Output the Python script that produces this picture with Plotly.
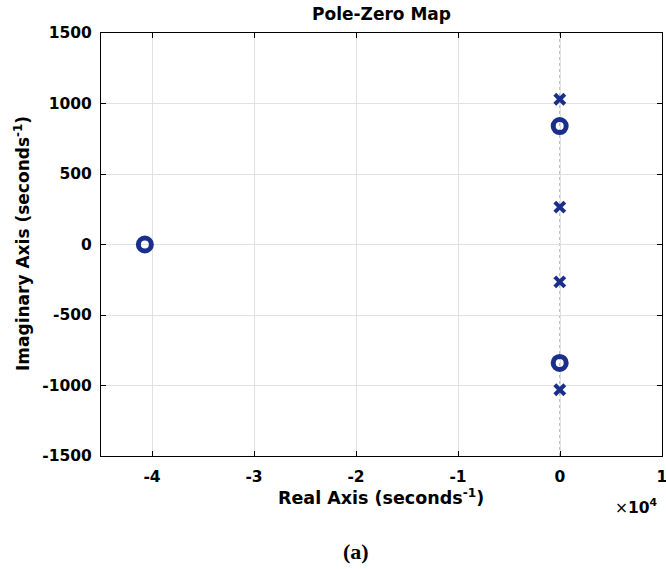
import plotly.graph_objects as go

# Poles (x markers) and zeros (o markers), in seconds^-1
pole_re = [-20, -20, -20, -20]
pole_im = [1030, 265, -265, -1030]
zero_re = [-40700, -30, -30]
zero_im = [0, 840, -840]

x_ticks = [-4, -3, -2, -1, 0, 1]
y_ticks = [-1500, -1000, -500, 0, 500, 1000, 1500]

col = "rgb(26,46,140)"
font = "DejaVu Sans, Liberation Sans, Arial, sans-serif"

W, H = 666, 569
l, r, t, b = 101, 4, 33, 113
pw, ph = W - l - r, H - t - b


def px(xp):
    return (xp - l) / pw


def py(yp):
    return (H - b - yp) / ph


fig = go.Figure()
# dotted zero lines
fig.add_shape(type="line", x0=0, x1=0, y0=-1500, y1=1500, xref="x", yref="y",
              line=dict(color="rgb(130,130,130)", width=1, dash="dot"), layer="below")
fig.add_shape(type="line", x0=-4.5, x1=1, y0=0, y1=0, xref="x", yref="y",
              line=dict(color="rgb(130,130,130)", width=1, dash="dot"), layer="below")

fig.add_trace(go.Scatter(x=[v / 1e4 for v in pole_re], y=pole_im, mode="markers",
                         marker=dict(symbol="x-thin", size=10, line=dict(color=col, width=4)),
                         showlegend=False))
fig.add_trace(go.Scatter(x=[v / 1e4 for v in zero_re], y=zero_im, mode="markers",
                         marker=dict(symbol="circle-open", size=13, color=col, line=dict(color=col, width=5)),
                         showlegend=False))

axis_common = dict(showline=True, linecolor="black", linewidth=1, mirror="ticks",
                   ticks="inside", ticklen=5, tickcolor="black",
                   showgrid=True, gridcolor="rgb(225,225,225)", gridwidth=1,
                   zeroline=False, ticklabeloverflow="allow", automargin=False,
                   tickfont=dict(family=font, size=15.5, color="black", weight="bold"))

fig.update_xaxes(range=[-4.5, 1], tickvals=x_ticks, ticktext=[str(t) for t in x_ticks],
                 ticklabelstandoff=6, **axis_common)
fig.update_yaxes(range=[-1500, 1500], tickvals=y_ticks, ticktext=[str(t) for t in y_ticks],
                 ticklabelstandoff=5, **axis_common)


def ann(text, xp, yp, size, family=font, angle=0):
    return dict(text=text, xref="paper", yref="paper", x=px(xp), y=py(yp),
                xanchor="center", yanchor="middle", showarrow=False, textangle=angle,
                font=dict(family=family, size=size, color="black"))


fig.update_layout(
    width=W, height=H,
    margin=dict(l=l, r=r, t=t, b=b),
    plot_bgcolor="white", paper_bgcolor="white",
    font=dict(family=font, color="black"),
    annotations=[
        ann("<b>Pole-Zero Map</b>", 381, 14, 17),
        ann("<b>Real Axis (seconds<sup>-1</sup>)</b>", 381, 497, 17.5),
        ann("<b>Imaginary Axis (seconds<sup>-1</sup>)</b>", 22, 244, 17, angle=-90),
        ann("×<b>10<sup>4</sup></b>", 636, 506, 15.5),
        ann("<b>(a)</b>", 356, 551, 22, family="Liberation Serif, Times New Roman, serif"),
    ],
)

fig.write_html("out.html")
